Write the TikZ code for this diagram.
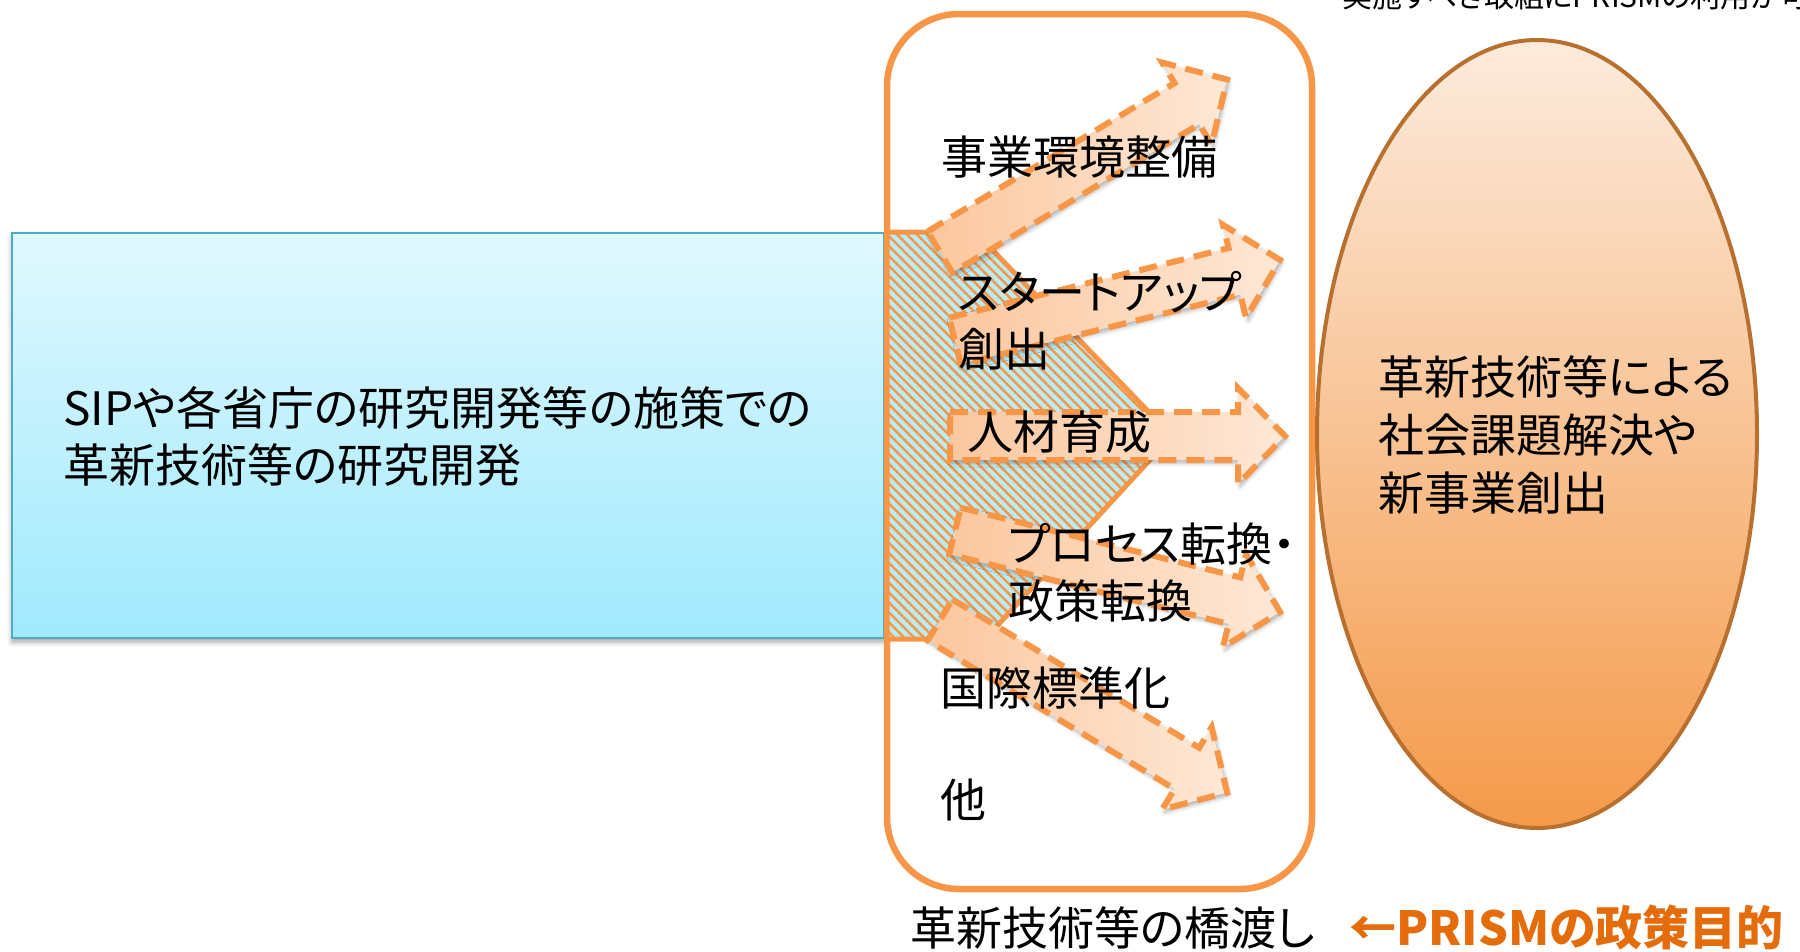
\documentclass[tikz,border=0pt]{standalone}
\usepackage{fontspec}
\setmainfont{Noto Sans CJK JP}[RawFeature=+palt]
\usetikzlibrary{patterns.meta,shadows.blur}
\definecolor{acc}{HTML}{F79646}
\definecolor{accd}{HTML}{E46C0A}
\definecolor{ellb}{HTML}{B8702F}
\definecolor{ellT}{HTML}{FCEBDD}
\definecolor{ellB}{HTML}{F49A4A}
\definecolor{bluebd}{HTML}{4BACC6}
\definecolor{blueT}{HTML}{E0F8FE}
\definecolor{blueB}{HTML}{A0EAFD}
\definecolor{hatchbg}{HTML}{B8ECF8}
\definecolor{arrL}{HTML}{FBC79E}
\definecolor{arrR}{HTML}{FEE8D6}
\tikzset{
  lbl/.style={anchor=base west, inner sep=0pt, font=\fontsize{46}{57}\selectfont},
  arrowshape/.style={draw=acc, line width=6pt, dash pattern=on 18pt off 10pt,
    left color=arrL, right color=arrR, line join=miter,
    blur shadow={shadow xshift=2pt, shadow yshift=-3pt, shadow blur radius=4pt, shadow opacity=30}},
  boxshadow/.style={blur shadow={shadow xshift=0pt, shadow yshift=-4pt, shadow blur radius=5pt, shadow opacity=35}}
}
\newcommand{\blockarr}[3]{%
  \begin{scope}[shift={(#1,#2)},rotate=#3]
    \path[arrowshape] (0,-24) -- (288,-24) -- (288,-48) -- (335,0) -- (288,48) -- (288,24) -- (0,24) -- cycle;
  \end{scope}}
\begin{document}
\begin{tikzpicture}[x=1pt,y=-1pt]
\path[use as bounding box] (0,0) rectangle (1800,951);
\clip (0,0) rectangle (1800,951);

% top (cut) text
\node[anchor=base west, inner sep=0pt, font=\fontsize{30}{36}\selectfont] (toptext) at (1342,7) {実施すべき取組にPRISMの利用が可};

% source box
\path[draw=bluebd, line width=2.5pt, top color=blueT, bottom color=blueB, boxshadow] (12,233) rectangle (884,638);
\coordinate (srcbox) at (448,436);

% bridge frame
\draw[acc, line width=6.5pt, rounded corners=72pt] (887,14) rectangle (1312,889);

% hatched pentagon
\path[fill=hatchbg] (887,232) -- (975,232) -- (1172,436) -- (985,639) -- (887,639) -- cycle;
\path[pattern={Lines[angle=-45,distance=7pt,line width=2.4pt]}, pattern color=acc] (887,232) -- (975,232) -- (1172,436) -- (985,639) -- (887,639) -- cycle;
\draw[acc, line width=5pt, line join=miter] (887,232) -- (975,232) -- (1172,436) -- (985,639) -- (887,639) -- cycle;

% goal ellipse
\draw[draw=ellb, line width=4pt, top color=ellT, bottom color=ellB] (1537,434) ellipse [x radius=220, y radius=394];

% arrows
\blockarr{940}{252}{31}
\blockarr{955}{341}{14}
\blockarr{950}{436}{0}
\blockarr{955}{531}{-14}
\blockarr{940}{620}{-31}

% texts
\node[lbl] (src1) at (63,425) {SIPや各省庁の研究開発等の施策での};
\node[lbl] (src2) at (63,482) {革新技術等の研究開発};

\node[lbl] (goal1) at (1378,394) {革新技術等による};
\node[lbl] (goal2) at (1378,452) {社会課題解決や};
\node[lbl] (goal3) at (1378,510) {新事業創出};

\node[lbl] (l1) at (941,174) {事業環境整備};
\node[lbl] (l2a) at (958,309) {スタートアップ};
\node[lbl] (l2b) at (958,366) {創出};
\node[lbl] (l3) at (967,449) {人材育成};
\node[lbl] (l4a) at (1008,561) {プロセス転換・};
\node[lbl] (l4b) at (1008,618) {政策転換};
\node[lbl] (l5) at (940,705) {国際標準化};
\node[lbl] (l6) at (940,817) {他};

\node[lbl] (bridge) at (910,945) {革新技術等の橋渡し};
\node[lbl, text=accd, font=\fontsize{47}{57}\selectfont\bfseries] (aim) at (1349,945) {←PRISMの政策目的};
\end{tikzpicture}
\end{document}
